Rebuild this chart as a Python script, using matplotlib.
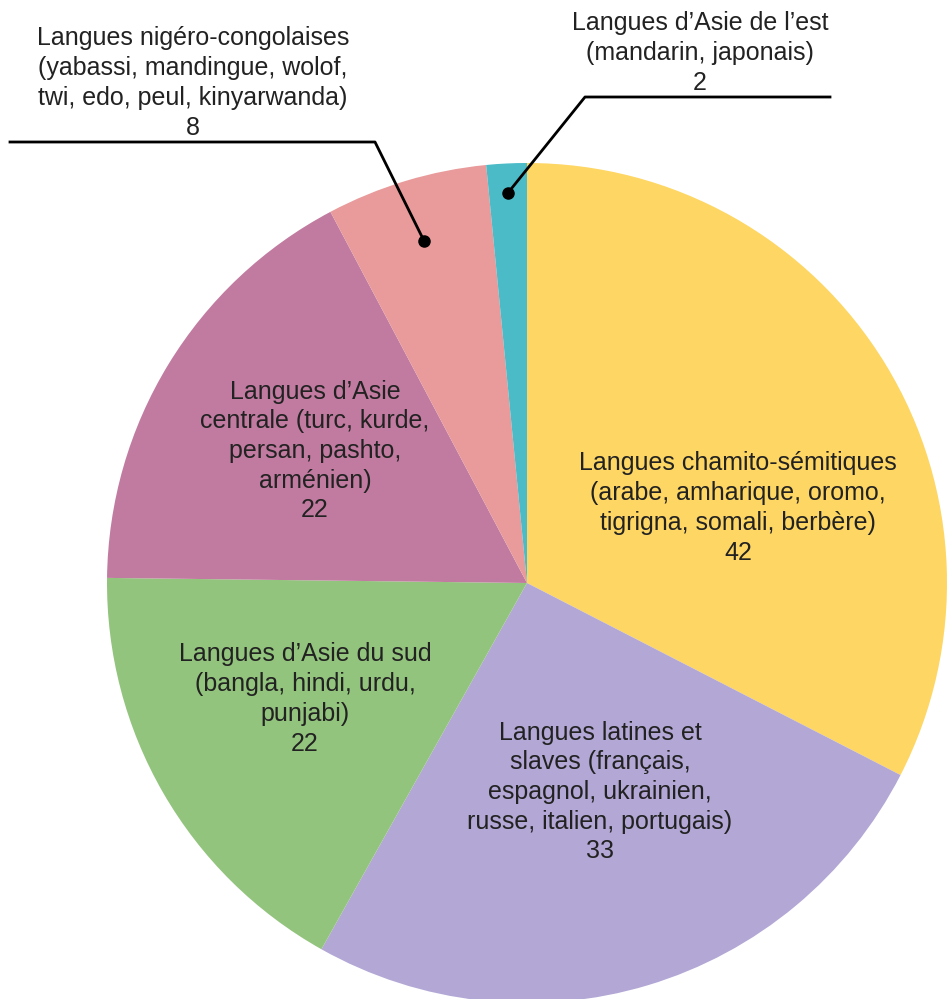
import numpy as np
import matplotlib.pyplot as plt

plt.rcParams['font.family'] = ['Liberation Sans', 'DejaVu Sans']

# données
categories = [
    "Langues chamito-sémitiques\n(arabe, amharique, oromo,\ntigrigna, somali, berbère)",
    "Langues latines et\nslaves (français,\nespagnol, ukrainien,\nrusse, italien, portugais)",
    "Langues d’Asie du sud\n(bangla, hindi, urdu,\npunjabi)",
    "Langues d’Asie\ncentrale (turc, kurde,\npersan, pashto,\narménien)",
    "Langues nigéro-congolaises\n(yabassi, mandingue, wolof,\ntwi, edo, peul, kinyarwanda)",
    "Langues d’Asie de l’est\n(mandarin, japonais)",
]
values = [42, 33, 22, 22, 8, 2]
colors = ['#FDD663', '#B3A7D5', '#93C47D', '#C17BA0', '#E99A9A', '#4BBBC7']

W, H = 947, 999
cx, cy, R = 527, H - 583, 420

fig = plt.figure(figsize=(W / 100, H / 100), dpi=100)
ax = fig.add_axes([0, 0, 1, 1])

wedges, _ = ax.pie(values, colors=colors, startangle=90, counterclock=False,
                   radius=R, center=(cx, cy), frame=True)
ax.set_xlim(0, W)
ax.set_ylim(0, H)
ax.set_aspect('equal')
ax.axis('off')

txt = dict(ha='center', va='center', fontsize=18, color='#222222', linespacing=1.3)

# étiquettes intérieures
inside_pos = [(738, H - 508), (600, H - 792), (305, H - 699), (315, H - 451)]
for i, (x, y) in enumerate(inside_pos):
    ax.text(x, y, categories[i] + "\n" + str(values[i]), **txt)

# étiquettes extérieures avec lignes de rappel
outside = [
    # index, position texte, rayon du point, coude, fin de ligne
    (4, (193, H - 83), 0.85, (375, H - 142), (10, H - 142)),
    (5, (700, H - 53), 0.93, (585, H - 97), (830, H - 97)),
]
for i, tpos, rf, elbow, end in outside:
    w = wedges[i]
    ang = np.deg2rad((w.theta1 + w.theta2) / 2)
    px = cx + rf * R * np.cos(ang)
    py = cy + rf * R * np.sin(ang)
    ax.plot([px, elbow[0], end[0]], [py, elbow[1], end[1]], color='black', lw=2)
    ax.plot(px, py, 'o', color='black', ms=8)
    ax.text(tpos[0], tpos[1], categories[i] + "\n" + str(values[i]), **txt)

fig.savefig('out.png', dpi=100)
